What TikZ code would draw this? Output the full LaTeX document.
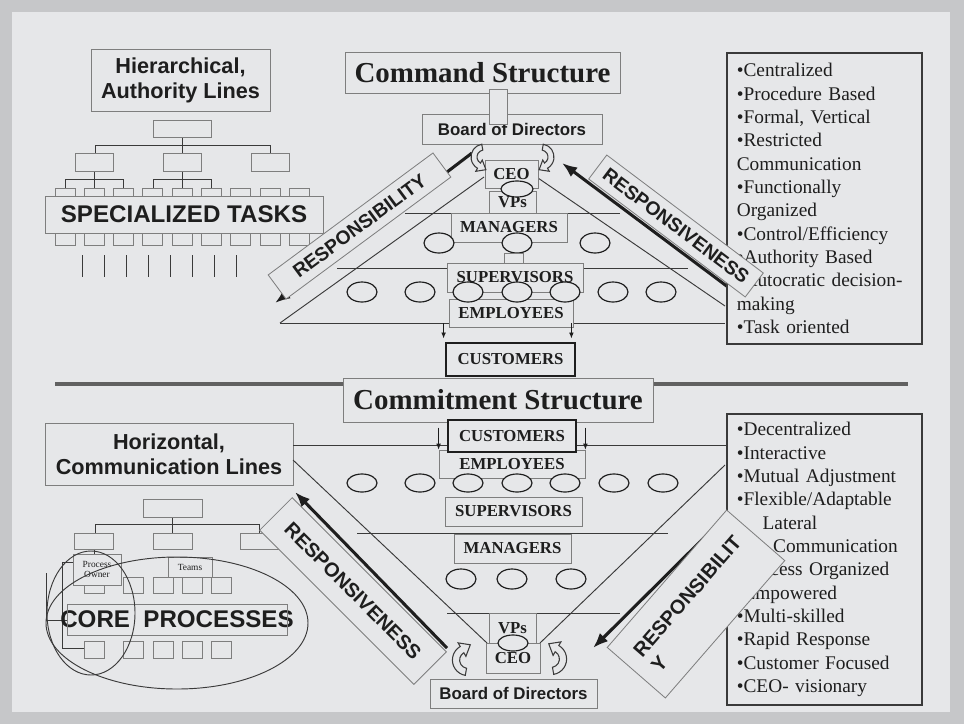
\documentclass[tikz,border=0pt]{standalone}
\usepackage{fontspec}
\setmainfont{Liberation Serif}
\setsansfont{Liberation Sans}
\usetikzlibrary{arrows.meta}

\definecolor{slide}{HTML}{C6C7C9}
\definecolor{paper}{HTML}{E6E7E9}
\definecolor{ink}{HTML}{1E1E1E}
\definecolor{rule}{HTML}{3A3A3A}
\definecolor{frame}{HTML}{7E7E7E}

\begin{document}
\begin{tikzpicture}[x=0.03cm, y=-0.03cm,
    bw/.style={minimum width=#1*0.03cm},
    bh/.style={minimum height=#1*0.03cm},
    box/.style={draw=frame, fill=paper, line width=0.7pt, inner sep=0pt, text=ink},
    rank/.style={box, font=\bfseries\fontsize{14.3}{16}\selectfont},
    heading/.style={box, font=\bfseries\fontsize{24.7}{28}\selectfont},
    tagline/.style={box, align=center, font=\sffamily\bfseries\fontsize{18.5}{21.3}\selectfont},
    bigcaps/.style={text=ink, inner sep=0pt, font=\sffamily\bfseries\fontsize{20.6}{24}\selectfont},
    boardname/.style={box, font=\sffamily\bfseries\fontsize{14.4}{16}\selectfont},
    band/.style={box, font=\sffamily\bfseries\fontsize{16.4}{19}\selectfont},
    traits/.style={draw=rule, fill=paper, line width=1.4pt, text=ink, align=left, anchor=north west,
      inner xsep=0.3cm, inner ysep=0pt, text width=5.25cm, minimum height=8.74cm,
      font=\fontsize{16.5}{19.9}\selectfont},
    tie/.style={draw=rule, line width=0.8pt},
    oval/.style={draw=ink, fill=paper, line width=1pt},
    push/.style={draw=ink, line width=2.6pt, -{Latex[length=13pt,width=10pt]}},
    drop/.style={draw=ink, line width=0.7pt, -{Latex[length=5pt,width=4pt]}},
    turn/.pic={
      \begin{scope}[x=0.03cm, y=0.03cm]
        \draw[draw=rule, fill=paper, line width=0.9pt] (100:13) arc[start angle=100, end angle=240, radius=13]
          -- (240:16.5) -- (1.9,-12.7) -- (240:3.5) -- (240:7) arc[start angle=240, end angle=100, radius=7] -- cycle;
      \end{scope}
    }]
  \fill[slide] (0,0) rectangle (964,724);
  \fill[paper] (12,12) rectangle (950,712);
  \useasboundingbox (0,0) rectangle (964,724);

  % hierarchy chart
  \draw[tie] (182,137) -- (182,145) (95,145) -- (270,145);
  \foreach \x in {95,182,270} \draw[tie] (\x,145) -- (\x,153);
  \foreach \x in {94,182} {
    \draw[tie] (\x,171) -- (\x,179) (\x-29,179) -- (\x+29,179);
    \foreach \d in {-29,0,29} \draw[tie] (\x+\d,179) -- (\x+\d,188);
  }
  \node[box, bw=58, bh=17] (headT) at (182,128.5) {};
  \foreach \x in {94,182,270} \draw[box] (\x-19,153) rectangle (\x+19,171);
  \foreach[evaluate={55+\i*29.3} as \x] \i in {0,...,8} \draw[box] (\x,188) rectangle ++(20,57);
  \node[box, bigcaps, bw=278, bh=37] (tasksT) at (184,214.5) {SPECIALIZED TASKS};
  \foreach[evaluate={82+\i*22} as \x] \i in {0,...,7} \draw[tie] (\x,255) -- (\x,277);
  \node[tagline, bw=179, bh=62] (hierT) at (180.5,80) {Hierarchical,\\Authority Lines};

  % command pyramid
  \draw[tie] (405,213) -- (620,213) (337,268) -- (688,268) (280,323) -- (725,323);
  \draw[tie] (484,177) -- (280,323) (538,178) -- (725,306);
  \draw[push] (472,153) -- (275,303);
  \draw[push] (740,296) -- (562,163);

  \node[heading, bw=275, bh=41] (cmdT) at (482.5,72.5) {Command Structure};
  \node[boardname, bw=180, bh=30] (boardT) at (512,129) {Board of Directors};
  \node[box, bw=18, bh=35] (linkT) at (498,106.5) {};
  \node[rank, bw=53, bh=28] (ceoT) at (511.5,174) {CEO};
  \node[rank, bw=47, bh=22] (vpsT) at (512.5,202) {VPs};
  \draw[oval] (517,189) ellipse [x radius=16, y radius=8];
  \node[rank, bw=116, bh=29] (mgrT) at (509,227.5) {MANAGERS};
  \foreach \x in {439,517,595} \draw[oval] (\x,243) ellipse [x radius=15, y radius=10];
  \node[box, bw=19, bh=10] (stemT) at (513.5,258) {};
  \node[rank, bw=136, bh=29] (supT) at (515,277.5) {SUPERVISORS};
  \node[rank, bw=124, bh=28] (empT) at (511,313) {EMPLOYEES};
  \foreach \x in {362,420,468,517,565,613,661} \draw[oval] (\x,292) ellipse [x radius=15, y radius=10];
  \node[rank, draw=ink, line width=2.4pt, bw=129, bh=33] (custT) at (510.5,359.5) {CUSTOMERS};
  \draw[drop] (empT.south west) ++(-5,-4) -- ++(0,15);
  \draw[drop] (empT.south east) ++(-2,-4) -- ++(0,15);

  \node[traits] (traitsT) at (726,52) {%
    •Centralized\\•Procedure Based\\•Formal, Vertical\\•Restricted\\Communication\\•Functionally\\Organized\\%
    •Control/Efficiency\\•Authority Based\\•Autocratic decision-\\making\\•Task oriented};
  \node[band, rotate=36.5, bw=205, bh=30] (dutyT) at (359.5,226) {RESPONSIBILITY};
  \node[band, rotate=-37, bw=196, bh=30] (replyT) at (676,226) {RESPONSIVENESS};
  \pic at (484,157) {turn};
  \pic[xscale=-1] at (541,157) {turn};

  % divider
  \draw[line width=3.4pt, draw=black!62] (55,384) -- (908,384);
  \node[heading, bw=310, bh=44] (commitT) at (498,400) {Commitment Structure};

  % process chart
  \draw[tie] (172,517) -- (172,524) (95,524) -- (259,524);
  \foreach \x in {95,172,259} \draw[tie] (\x,524) -- (\x,533);
  \draw[tie] (94,549) -- (94,556);
  \draw[tie] (62,562) -- (62,648) (62,562) -- (73,562) (62,648) -- (84,648);
  \draw[tie] (46,573) -- (46,620) -- (67,620);
  \node[box, bw=59, bh=18] (headB) at (172.5,508) {};
  \foreach \x in {94,172.5,259.5} \draw[box] (\x-19.5,533) rectangle (\x+19.5,549);
  \foreach \x in {84,123,153,182,211} {
    \draw[box] (\x,577) rectangle ++(20,16);
    \draw[box] (\x,641) rectangle ++(20,17);
  }
  \node[box, align=center, font=\fontsize{8}{9}\selectfont, bw=48, bh=31] (ownerB) at (97,569.5) {Process\\Owner};
  \node[box, font=\fontsize{8}{9}\selectfont, bw=44, bh=20] (teamsB) at (190,567) {Teams};
  \node[bigcaps] (coreB) at (177,619.5) {CORE\ \ PROCESSES};
  \draw[tie, draw=frame, line width=0.7pt] (67,604) rectangle (287,635);
  \draw[tie] (177,623) ellipse [x radius=131, y radius=66];
  \draw[tie] (91,613) ellipse [x radius=44, y radius=62];
  \node[tagline, bw=248, bh=62] (horizB) at (169,454) {Horizontal,\\Communication Lines};

  % commitment pyramid
  \draw[tie] (293,445) -- (726,445) (357,533) -- (668,533) (447,613) -- (620,613);
  \draw[tie] (293,460) -- (487,643) (540,643) -- (725,465);
  \draw[push] (745,497) -- (593,648);

  \node[rank, bw=146, bh=28] (empB) at (512,464) {EMPLOYEES};
  \node[rank, draw=ink, line width=2.4pt, bw=128, bh=32] (custB) at (512,436) {CUSTOMERS};
  \draw[drop] (empB.north west) ++(0,-22) -- ++(0,22);
  \draw[drop] (empB.north east) ++(0,-22) -- ++(0,22);
  \foreach \x in {362,420,468,517,565,614,663} \draw[oval] (\x,483) ellipse [x radius=15, y radius=9];
  \node[rank, bw=137, bh=29] (supB) at (513.5,511.5) {SUPERVISORS};
  \node[rank, bw=117, bh=29] (mgrB) at (512.5,548.5) {MANAGERS};
  \foreach \x in {461,512,571} \draw[oval] (\x,579) ellipse [x radius=15, y radius=10];
  \node[rank, bw=47, bh=30] (vpsB) at (512.5,628) {VPs};
  \node[rank, bw=54, bh=30] (ceoB) at (513,658) {CEO};
  \draw[oval] (513,643) ellipse [x radius=15, y radius=8];
  \node[boardname, bw=167, bh=29] (boardB) at (513.5,693.5) {Board of Directors};
  \pic[scale=1.2, yscale=-1] at (468,660) {turn};
  \pic[scale=1.2, xscale=-1, yscale=-1] at (551,659) {turn};

  \node[traits] (traitsB) at (726,413) {%
    •Decentralized\\•Interactive\\•Mutual Adjustment\\•Flexible/Adaptable\\\hspace*{22pt}Lateral\\%
    \hspace*{31pt}Communication\\•Process Organized\\•Empowered\\•Multi-skilled\\•Rapid Response\\%
    •Customer Focused\\•CEO- visionary};
  \node[band, font=\sffamily\bfseries\fontsize{17}{20}\selectfont, rotate=-45, bw=218, bh=46] (replyB) at (353,591) {RESPONSIVENESS};
  \node[band, font=\sffamily\bfseries\fontsize{17}{20}\selectfont, align=left, rotate=49, bw=182, bh=77] (dutyB) at (696,604) {RESPONSIBILIT\\Y};
  \draw[push] (447,648) -- (295,492);
\end{tikzpicture}
\end{document}
